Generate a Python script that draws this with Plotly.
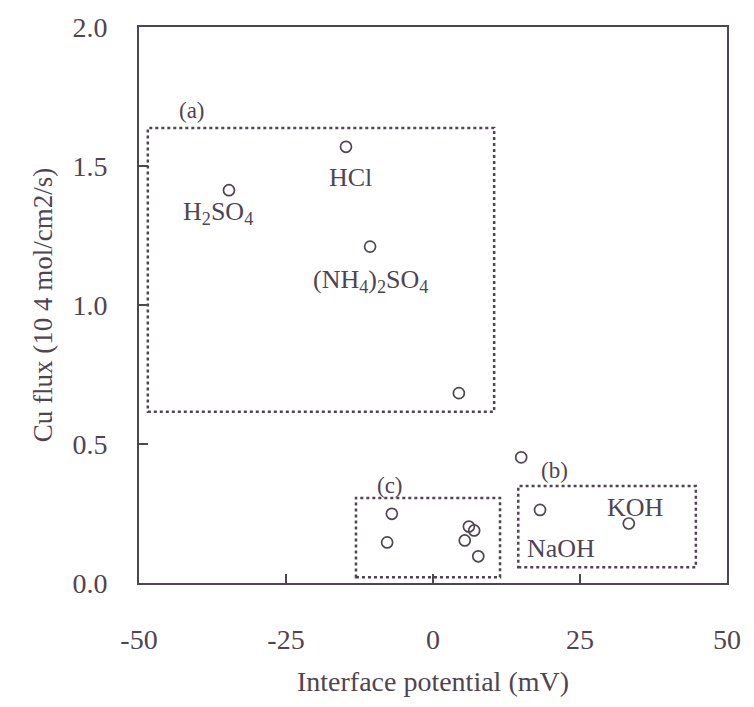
import plotly.graph_objects as go

# Data
potential_mV = [-34.7, -14.8, -10.7, 4.4, 15.0, 18.2, 33.3, -7.0, -7.8, 6.1, 7.0, 5.4, 7.7]
cu_flux = [1.413, 1.569, 1.21, 0.683, 0.452, 0.263, 0.214, 0.249, 0.146, 0.203, 0.189, 0.153, 0.096]

x_ticks = [-50, -25, 0, 25, 50]
x_tick_text = ["-50", "-25", "0", "25", "50"]
y_ticks = [0.0, 0.5, 1.0, 1.5, 2.0]
y_tick_text = ["0.0", "0.5", "1.0", "1.5", "2.0"]

# group boxes: (label, x0, x1, y0, y1, label_x, label_y)
groups = [
    ("(a)", -48.5, 10.4, 0.616, 1.637, -41.0, 1.70),
    ("(b)", 14.5, 44.7, 0.057, 0.349, 20.7, 0.405),
    ("(c)", -13.1, 11.4, 0.021, 0.306, -7.3, 0.35),
]

# compound labels: (text, x, y)
compounds = [
    ("HCl", -14.0, 1.46),
    ("H<sub>2</sub>SO<sub>4</sub>", -36.5, 1.33),
    ("(NH<sub>4</sub>)<sub>2</sub>SO<sub>4</sub>", -10.7, 1.085),
    ("KOH", 34.5, 0.27),
    ("NaOH", 21.8, 0.125),
]

ink = "#4f4550"
font_family = "Liberation Serif, Times New Roman, serif"

fig = go.Figure()
fig.add_trace(go.Scatter(
    x=potential_mV, y=cu_flux, mode="markers",
    marker=dict(symbol="circle-open", size=11, color=ink, line=dict(width=1.7, color=ink)),
    showlegend=False,
))

for lab, x0, x1, y0, y1, lx, ly in groups:
    fig.add_shape(type="rect", x0=x0, x1=x1, y0=y0, y1=y1, xref="x", yref="y",
                  line=dict(color=ink, width=2.5, dash="dot"))
    fig.add_annotation(x=lx, y=ly, text=lab, showarrow=False,
                       font=dict(family=font_family, size=23, color=ink))

for txt, x, y in compounds:
    fig.add_annotation(x=x, y=y, text=txt, showarrow=False,
                       font=dict(family=font_family, size=26, color=ink))

fig.update_layout(
    width=754, height=707,
    margin=dict(l=139, r=27, t=21, b=124),
    paper_bgcolor="white", plot_bgcolor="white",
    font=dict(family=font_family, color=ink),
)
fig.update_xaxes(
    range=[-50, 50], tickvals=x_ticks, ticktext=x_tick_text, ticks="inside", ticklen=9, tickwidth=1.5,
    tickcolor=ink, showline=True, linewidth=2, linecolor=ink, mirror=True, showgrid=False, zeroline=False,
    tickfont=dict(size=28, color=ink, family=font_family), ticklabelstandoff=30,
    title=dict(text="Interface potential (mV)", font=dict(size=28, color=ink, family=font_family), standoff=18),
)
fig.update_yaxes(
    range=[0, 2.0], tickvals=y_ticks, ticktext=y_tick_text, ticks="inside", ticklen=9, tickwidth=1.5,
    tickcolor=ink, showline=True, linewidth=2, linecolor=ink, mirror=True, showgrid=False, zeroline=False,
    tickfont=dict(size=28, color=ink, family=font_family), ticklabelstandoff=24,
    title=dict(text="Cu flux (10 4 mol/cm2/s)", font=dict(size=27, color=ink, family=font_family), standoff=12),
)

fig.write_html("out.html")
